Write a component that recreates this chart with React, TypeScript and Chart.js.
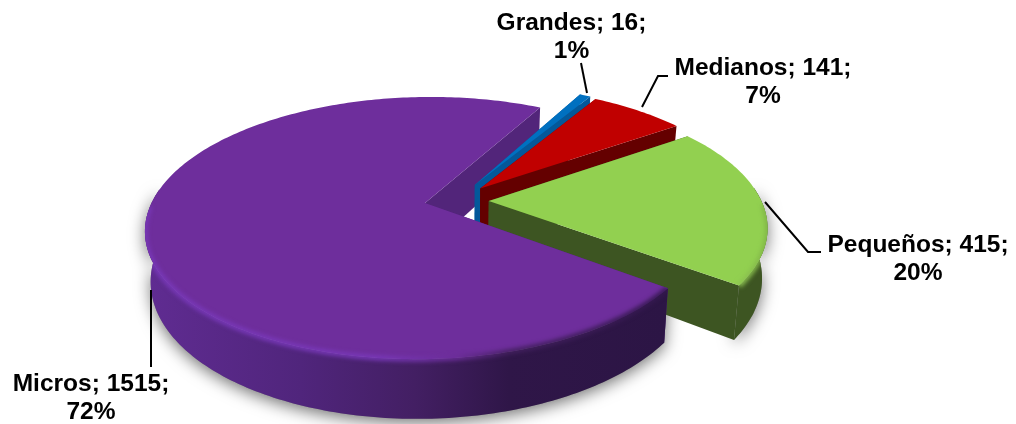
import React, { useEffect, useRef } from "react";
import { Chart, registerables } from "chart.js";

Chart.register(...registerables);

const categories = ["Grandes", "Medianos", "Pequeños", "Micros"];
const seriesValues = [16, 141, 415, 1515];
const percentLabels = ["1%", "7%", "20%", "72%"];
const topColors = ["#0070C0", "#C00000", "#92D050", "#6E2E9C"];

// Drawing style (not data)
const EXPLODE: [number, number][] = [
  [0.05, -0.118],
  [0.07, -0.09],
  [0.1, 0.012],
  [-0.1335, 0.028],
];
const VIEW = { X0: 461.5, Y0: 199.5, Rx: 272, Ry: 125, p: 0.19, D: 48, shrink: 0.018 };
const FONT = 'bold 24.5px "Liberation Sans", Arial, sans-serif';

type Pt = [number, number];

function project(u: number, v: number, h: number): Pt {
  const w = 1 - VIEW.p * v;
  return [
    VIEW.X0 + ((VIEW.Rx * u) / w) * (1 - VIEW.shrink * h),
    VIEW.Y0 + (VIEW.Ry * v + VIEW.D * h) / w,
  ];
}

function sliceGeom(a0: number, a1: number, e: [number, number]) {
  const [ox, oy] = e;
  const n = Math.max(4, Math.ceil((a1 - a0) / (Math.PI / 180)));
  const rim: { a: number; u: number; v: number }[] = [];
  for (let i = 0; i <= n; i++) {
    const a = a0 + ((a1 - a0) * i) / n;
    rim.push({ a, u: ox + Math.cos(a), v: oy + Math.sin(a) });
  }
  return { ox, oy, rim };
}

function trace(ctx: CanvasRenderingContext2D, pts: Pt[]) {
  pts.forEach((p, i) => (i ? ctx.lineTo(p[0], p[1]) : ctx.moveTo(p[0], p[1])));
  ctx.closePath();
}

function poly(ctx: CanvasRenderingContext2D, pts: Pt[]) {
  ctx.beginPath();
  trace(ctx, pts);
}

function hGrad(ctx: CanvasRenderingContext2D, x0: number, x1: number, stops: [number, string][]) {
  const g = ctx.createLinearGradient(x0, 0, x1, 0);
  stops.forEach(([o, c]) => g.addColorStop(o, c));
  return g;
}

const pie3d = {
  id: "pie3d",
  beforeDatasetsDraw(chart: any) {
    const ctx: CanvasRenderingContext2D = chart.ctx;
    const arcs = chart.getDatasetMeta(0).data;
    const geoms = arcs.map((arc: any, i: number) => sliceGeom(arc.startAngle, arc.endAngle, EXPLODE[i]));

    const wallFill: any[] = [
      "#04589A",
      "#640000",
      "#3D5522",
      hGrad(ctx, 144, 665, [
        [0, "#602C92"],
        [0.3, "#50257C"],
        [0.52, "#431F63"],
        [0.7, "#2F1648"],
        [1, "#2C1545"],
      ]),
    ];
    const cutFill = ["#04589A", "#640000", "#3D5522", "#52257A"];

    const cutWall = (g: any, a: { u: number; v: number }) =>
      [project(g.ox, g.oy, 0), project(a.u, a.v, 0), project(a.u, a.v, 1), project(g.ox, g.oy, 1)] as Pt[];
    const frontRim = (g: any) => g.rim.filter((r: any) => Math.sin(r.a) > -0.12);
    const rimWall = (g: any) => {
      const f = frontRim(g);
      return [
        ...f.map((r: any) => project(r.u, r.v, 0)),
        ...f.slice().reverse().map((r: any) => project(r.u, r.v, 1)),
      ] as Pt[];
    };
    const topFace = (g: any) =>
      [project(g.ox, g.oy, 0), ...g.rim.map((r: any) => project(r.u, r.v, 0))] as Pt[];

    // soft ground shadows
    [2, 3].forEach((i) => {
      ctx.save();
      ctx.shadowColor = "rgba(0,0,0,0.55)";
      ctx.shadowBlur = 16;
      ctx.shadowOffsetX = 0;
      ctx.shadowOffsetY = 4;
      ctx.fillStyle = "#888";
      poly(ctx, rimWall(geoms[i]));
      ctx.fill();
      ctx.restore();
    });

    // back cut wall of the big slice goes behind everything
    const big = geoms[3];
    ctx.fillStyle = cutFill[3];
    poly(ctx, cutWall(big, big.rim[big.rim.length - 1]));
    ctx.fill();

    arcs.forEach((_: any, i: number) => {
      const g = geoms[i];
      ctx.fillStyle = cutFill[i];
      if (i !== 3) {
        poly(ctx, cutWall(g, g.rim[0]));
        ctx.fill();
        poly(ctx, cutWall(g, g.rim[g.rim.length - 1]));
        ctx.fill();
      } else {
        poly(ctx, cutWall(g, g.rim[0]));
        ctx.fill();
      }
      const front = frontRim(g);
      if (front.length > 1) {
        ctx.fillStyle = wallFill[i];
        poly(ctx, rimWall(g));
        ctx.fill();
      }
      ctx.fillStyle = topColors[i];
      poly(ctx, topFace(g));
      ctx.fill();

      // rounded bevel along the visible front rim
      const lit = g.rim.filter((r: any) => Math.sin(r.a) > 0.02);
      if (i >= 2 && lit.length > 1) {
        ctx.save();
        ctx.beginPath();
        trace(ctx, topFace(g));
        trace(ctx, rimWall(g));
        ctx.clip();
        ctx.filter = "blur(2px)";
        ctx.lineWidth = 5;
        ctx.lineJoin = "round";
        ctx.strokeStyle =
          i === 3
            ? hGrad(ctx, 144, 665, [
                [0, "#7838B8"],
                [0.45, "#7838B8"],
                [0.6, "#6B2D98"],
                [0.7, "#43205F"],
                [1, "#34184F"],
              ])
            : hGrad(ctx, 690, 770, [
                [0, "#A6DC68"],
                [1, "#7FB445"],
              ]);
        ctx.beginPath();
        lit.forEach((r: any, k: number) => {
          const p = project(r.u, r.v, 0);
          if (k) ctx.lineTo(p[0], p[1]);
          else ctx.moveTo(p[0], p[1]);
        });
        ctx.stroke();
        ctx.restore();
      }
    });

    // leader lines
    const leaders: Pt[][] = [
      [[581, 63], [587, 93]],
      [[668, 76], [658, 76], [642, 107]],
      [[765, 202], [808, 252], [821, 252]],
      [[151, 290], [151, 367]],
    ];
    ctx.strokeStyle = "#000";
    ctx.lineWidth = 2;
    leaders.forEach((l) => {
      ctx.beginPath();
      l.forEach((p, k) => (k ? ctx.lineTo(p[0], p[1]) : ctx.moveTo(p[0], p[1])));
      ctx.stroke();
    });

    // data labels
    const labelPos: Pt[] = [
      [571.5, 23],
      [763, 68],
      [918, 245],
      [91, 384],
    ];
    ctx.fillStyle = "#000";
    ctx.font = FONT;
    ctx.textAlign = "center";
    ctx.textBaseline = "middle";
    categories.forEach((c, i) => {
      const [x, y] = labelPos[i];
      ctx.fillText(`${c}; ${seriesValues[i]};`, x, y);
      ctx.fillText(percentLabels[i], x, y + 28);
    });
    return false;
  },
};

export default function App() {
  const ref = useRef<HTMLCanvasElement>(null);
  useEffect(() => {
    const chart = new Chart(ref.current as HTMLCanvasElement, {
      type: "pie",
      data: {
        labels: categories,
        datasets: [{ data: seriesValues, backgroundColor: topColors, borderWidth: 0 }],
      },
      options: {
        animation: false,
        responsive: false,
        rotation: 28,
        plugins: { legend: { display: false }, tooltip: { enabled: false } },
      },
      plugins: [pie3d],
    } as any);
    return () => chart.destroy();
  }, []);
  return (
    <div style={{ position: "absolute", left: 0, top: 0, width: 1016, height: 424 }}>
      <canvas ref={ref} width={1016} height={424} />
    </div>
  );
}
